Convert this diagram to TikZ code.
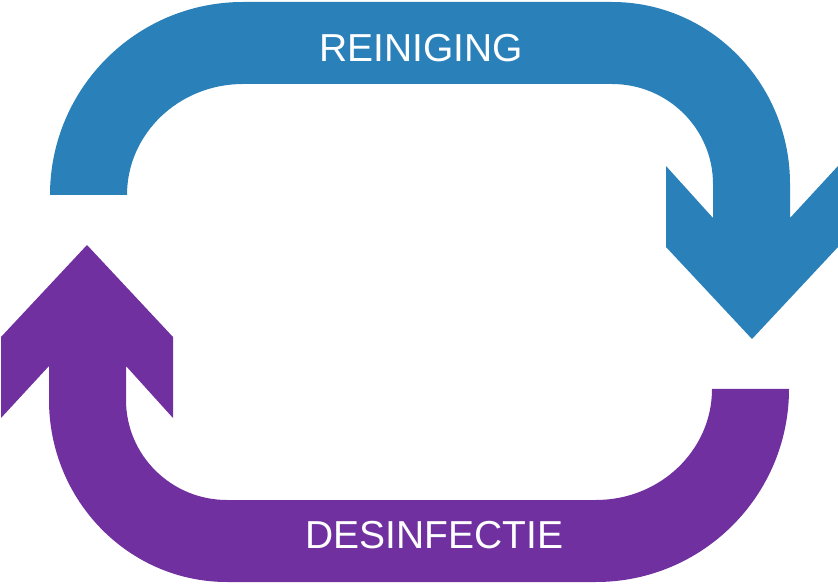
\documentclass[tikz,border=0pt]{standalone}
\usepackage{fontspec}
\setmainfont{Liberation Sans}
\definecolor{reinblue}{HTML}{2A80B9}
\definecolor{despurple}{HTML}{7030A0}
\tikzset{
  looptext/.style={text=white, font=\fontsize{39}{39}\selectfont, inner sep=0pt},
}
\begin{document}
\begin{tikzpicture}[x=1pt, y=1pt]
\useasboundingbox (0,0) rectangle (838,584);
% u-turn arrows, the second one turned round the middle
\foreach \ang/\col in {0/reinblue, 180/despurple} {
  \begin{scope}[rotate around={\ang:(419.5,292)}]
    \fill[\col] (50,389) arc[start angle=180, end angle=90, x radius=193, y radius=193]
      -- (612,582) arc[start angle=90, end angle=0, x radius=178, y radius=182]
      -- (790,366) -- (838,418) -- (838,337) -- (752,245) -- (666,337) -- (666,418)
      -- (713,366) -- (713,400) arc[start angle=0, end angle=90, x radius=101, y radius=100]
      -- (243,500) arc[start angle=90, end angle=180, x radius=116, y radius=111]
      -- cycle;
  \end{scope}
}
\node[looptext, anchor=base] (reiniging) at (421,522) {REINIGING};
\node[looptext, anchor=base] (desinfectie) at (434.5,36) {DESINFECTIE};
\end{tikzpicture}
\end{document}
